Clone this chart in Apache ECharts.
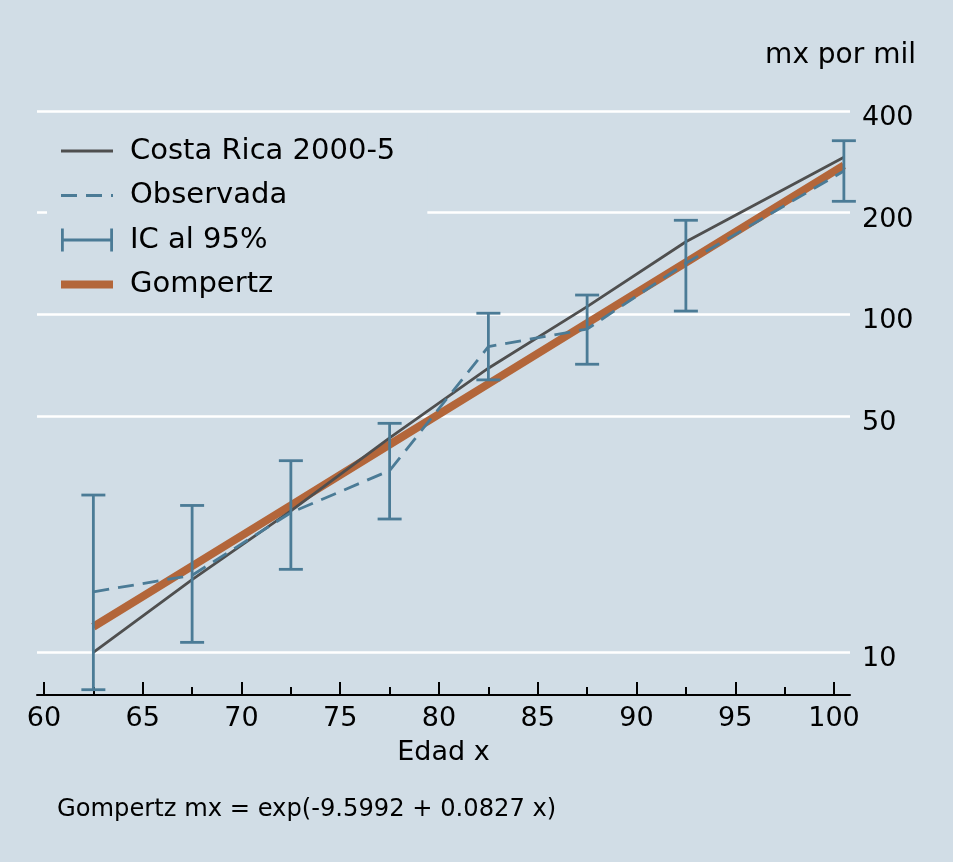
<!DOCTYPE html>
<html>
<head>
<meta charset="utf-8">
<script src="https://cdn.jsdelivr.net/npm/echarts@6/dist/echarts.min.js"></script>
<style>
  html, body { margin: 0; padding: 0; background: #D1DDE6; }
  #chart { width: 953px; height: 862px; }
</style>
</head>
<body>
<div id="chart"></div>
<script>
// Age groups (midpoints, years) and mortality rates per thousand
const ages       = [62.5, 67.5, 72.5, 77.5, 82.5, 87.5, 92.5, 100.5];
const costaRica  = [10.0, 16.4, 26.2, 43.1, 69.3, 105.4, 164.1, 291.7];
const observada  = [15.1, 16.9, 25.9, 34.5, 80.3, 90.5, 141.7, 265.7];
const icLower    = [7.75, 10.7, 17.6, 24.8, 64.0, 71.2, 102.3, 216.1];
const icUpper    = [29.2, 27.2, 36.9, 47.6, 100.8, 114.1, 189.9, 326.6];
const gompertz   = [11.9, 18.0, 27.2, 41.2, 62.3, 94.2, 142.4, 275.9];

// Axis ticks and texts
const xTicks      = [60, 65, 70, 75, 80, 85, 90, 95, 100];
const xMinorTicks = [62.5, 67.5, 72.5, 77.5, 82.5, 87.5, 92.5, 97.5];
const yTicks      = [10, 50, 100, 200, 400];
const seriesNames = ['Costa Rica 2000-5', 'Observada', 'IC al 95%', 'Gompertz'];
const xTitle = 'Edad x';
const yTitle = 'mx por mil';
const note = 'Gompertz mx = exp(-9.5992 + 0.0827 x)';

const FONT = 'DejaVu Sans';
const BG = '#D1DDE6';
const GRAY = '#4F4F4F';
const BLUE = '#4B7B96';
const ORANGE = '#B3663A';

const CR_WIDTH = 2.8, OBS_WIDTH = 2.8, CI_WIDTH = 2.8, GOMP_WIDTH = 8;
const OBS_DASH = [16, 9];

const X_MIN = 59.646, X_MAX = 100.81;
const Y_MIN = 7.475, Y_MAX = 431;

const pairs = ys => ages.map((a, i) => [a, ys[i]]);
const ciData = ages.map((a, i) => [a, icLower[i], icUpper[i]]);

const chart = echarts.init(document.getElementById('chart'), null, { renderer: 'canvas' });

const tickLine = { color: '#000', width: 2 };
const noSymbol = { opacity: 0 };

chart.setOption({
  backgroundColor: BG,
  animation: false,
  textStyle: { fontFamily: FONT },
  title: [
    {
      text: yTitle, right: 37, top: 41, padding: 0,
      textStyle: { fontFamily: FONT, fontSize: 28, fontWeight: 'normal', color: '#000', lineHeight: 30 }
    },
    {
      text: note, left: 57, top: 796, padding: 0,
      textStyle: { fontFamily: FONT, fontSize: 24.2, fontWeight: 'normal', color: '#000', lineHeight: 28 }
    }
  ],
  grid: { left: 37, right: 103, top: 100, bottom: 167, containLabel: false, outerBoundsMode: 'none' },
  legend: {
    orient: 'vertical',
    left: 47, top: 126,
    padding: [10, 32, 10, 10],
    itemGap: 14.5,
    itemWidth: 52, itemHeight: 23,
    backgroundColor: BG,
    borderWidth: 0,
    selectedMode: false,
    textStyle: { fontFamily: FONT, fontSize: 29, color: '#000', lineHeight: 30, padding: [0, 0, 0, 12] },
    data: [
      { name: seriesNames[0], itemStyle: noSymbol, lineStyle: { color: GRAY, width: CR_WIDTH, type: 'solid' } },
      { name: seriesNames[1], itemStyle: noSymbol, lineStyle: { color: BLUE, width: OBS_WIDTH, type: OBS_DASH } },
      { name: seriesNames[2], icon: 'path://M0,0H2.8V23H0Z M0,10.1H52V12.9H0Z M49.2,0H52V23H49.2Z', itemStyle: { color: BLUE } },
      { name: seriesNames[3], itemStyle: noSymbol, lineStyle: { color: ORANGE, width: GOMP_WIDTH, type: 'solid' } }
    ]
  },
  xAxis: [
    {
      type: 'value', min: X_MIN, max: X_MAX, position: 'bottom',
      axisLine: { show: true, onZero: false, lineStyle: tickLine },
      axisTick: { show: true, inside: true, length: 13, customValues: xTicks, lineStyle: tickLine },
      axisLabel: { customValues: xTicks, margin: 10, fontFamily: FONT, fontSize: 27, color: '#000', lineHeight: 28 },
      splitLine: { show: false },
      name: xTitle, nameLocation: 'middle', nameGap: 44,
      nameTextStyle: { fontFamily: FONT, fontSize: 27, color: '#000', lineHeight: 28 }
    },
    {
      type: 'value', min: X_MIN, max: X_MAX, position: 'bottom',
      axisLine: { show: false },
      axisTick: { show: true, inside: true, length: 8, customValues: xMinorTicks, lineStyle: tickLine },
      axisLabel: { show: false },
      splitLine: { show: false }
    }
  ],
  yAxis: {
    type: 'log', logBase: 10, min: Y_MIN, max: Y_MAX, position: 'right',
    axisLine: { show: false },
    axisTick: { show: false, customValues: yTicks },
    axisLabel: {
      customValues: yTicks, margin: 12, fontFamily: FONT, fontSize: 27, color: '#000',
      verticalAlign: 'top', lineHeight: 14
    },
    splitLine: { show: true, lineStyle: { color: '#FFFFFF', width: 2.5 } },
    minorSplitLine: { show: false }
  },
  series: [
    {
      name: seriesNames[3], type: 'line', data: pairs(gompertz), z: 1,
      symbol: 'none', silent: true,
      itemStyle: { color: ORANGE },
      lineStyle: { color: ORANGE, width: GOMP_WIDTH, cap: 'butt' }
    },
    {
      name: seriesNames[0], type: 'line', data: pairs(costaRica), z: 2,
      symbol: 'none', silent: true,
      itemStyle: { color: GRAY },
      lineStyle: { color: GRAY, width: CR_WIDTH }
    },
    {
      name: seriesNames[1], type: 'line', data: pairs(observada), z: 3,
      symbol: 'none', silent: true,
      itemStyle: { color: BLUE },
      lineStyle: { color: BLUE, width: OBS_WIDTH, type: OBS_DASH }
    },
    {
      name: seriesNames[2], type: 'custom', data: ciData, z: 4, silent: true,
      itemStyle: { color: BLUE },
      encode: { x: 0, y: [1, 2] },
      renderItem: function (params, api) {
        const x = api.value(0);
        const lo = api.coord([x, api.value(1)]);
        const hi = api.coord([x, api.value(2)]);
        const hw = 12;
        const style = { stroke: BLUE, lineWidth: CI_WIDTH, fill: null };
        return {
          type: 'group',
          children: [
            { type: 'line', shape: { x1: lo[0], y1: lo[1], x2: hi[0], y2: hi[1] }, style: style },
            { type: 'line', shape: { x1: lo[0] - hw, y1: lo[1], x2: lo[0] + hw, y2: lo[1] }, style: style },
            { type: 'line', shape: { x1: hi[0] - hw, y1: hi[1], x2: hi[0] + hw, y2: hi[1] }, style: style }
          ]
        };
      }
    }
  ]
});
</script>
</body>
</html>
